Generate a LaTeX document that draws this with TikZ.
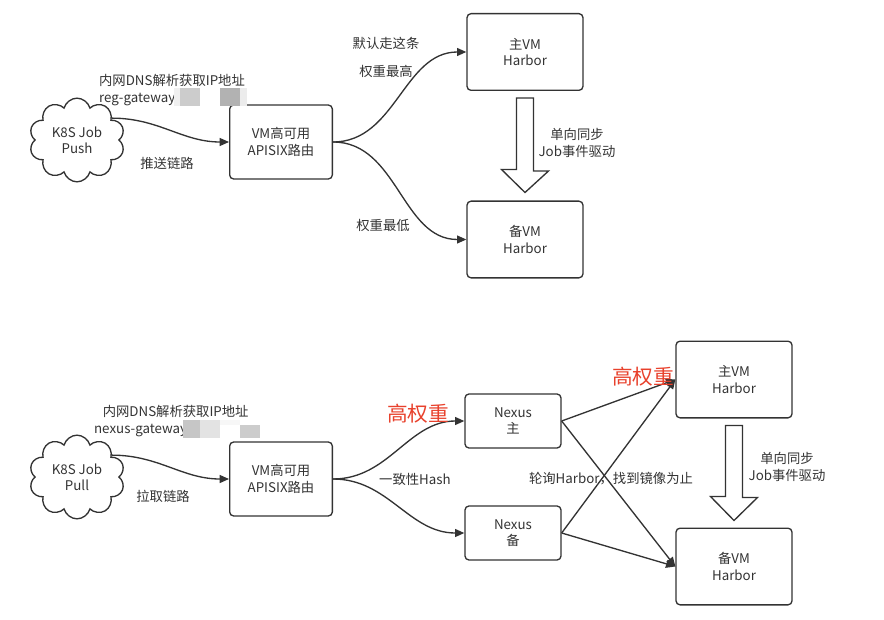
\documentclass[tikz,border=0pt]{standalone}
\usepackage{fontspec}
\setmainfont{Noto Sans CJK SC}
\usetikzlibrary{arrows.meta,shapes.symbols,calc}
\definecolor{ink}{HTML}{333333}
\definecolor{hot}{HTML}{E8412C}
\begin{document}
\begin{tikzpicture}[x=.75pt,y=-.75pt,line width=1pt,color=ink,
  every node/.style={font=\fontsize{10}{12.3}\selectfont},
  box/.style={draw,rounded corners=3pt,align=center,minimum width=77pt,minimum height=55.5pt},
  hbox/.style={box,minimum width=87pt,minimum height=57.5pt},
  nbox/.style={box,minimum width=72pt,minimum height=40.5pt},
  job/.style={draw,cloud,cloud puffs=10,aspect=1.25,minimum width=66pt,minimum height=52pt,align=center},
  link/.style={-{Triangle[length=7pt,width=6pt]}},
  hot note/.style={text=hot,font=\fontsize{15.5}{18}\selectfont},
  sync/.style={fill=white,line join=miter}]
  \useasboundingbox (0,0) rectangle (884,620);
  % push
  \node[job] (push) at (77,140) {K8S Job\\Push};
  \node[box] (gwA) at (281,142) {VM高可用\\APISIX路由};
  \node[hbox] (hmA) at (525,52) {主VM\\Harbor};
  \node[hbox] (hbA) at (525,239.5) {备VM\\Harbor};
  \draw[link] (push.32) to[out=0,in=180] (gwA.west);
  \draw[link] (gwA.east) to[out=0,in=180] (hmA.west);
  \draw[link] (gwA.east) to[out=0,in=180] (hbA.west);
  \draw[sync] ($(hmA.south)+(-8.5,7)$) -- ++(17,0) -- ++(0,73) -- ++(15,0)
    -- ($(hbA.north)+(0,-8)$) -- ++(-23.5,-23) -- ++(15,0) -- cycle;
  \node[align=left,anchor=west] at (94,90) {内网DNS解析获取IP地址\\reg-gateway};
  \fill[gray!12] (174,88) rectangle (180,106);
  \fill[gray!40] (180,88) rectangle (200,106);
  \fill[gray!60] (220,88) rectangle (240,106);
  \fill[gray!15] (240,88) rectangle (247,106);
  \node at (167,163) {推送链路};
  \node at (386,43) {默认走这条};
  \node at (386,71) {权重最高};
  \node at (383,225) {权重最低};
  \node[align=center] at (577,143) {单向同步\\Job事件驱动};
  % pull
  \node[job] (pull) at (77,477) {K8S Job\\Pull};
  \node[box] (gwB) at (281,479) {VM高可用\\APISIX路由};
  \node[nbox] (nxm) at (513,421) {Nexus\\主};
  \node[nbox] (nxb) at (513,533) {Nexus\\备};
  \node[hbox] (hmB) at (734,379.5) {主VM\\Harbor};
  \node[hbox] (hbB) at (734,566.5) {备VM\\Harbor};
  \draw[link] (pull.32) to[out=0,in=180] (gwB.west);
  \draw[link] (gwB.east) to[out=0,in=180] (nxm.west);
  \draw[link] (gwB.east) to[out=0,in=180] (nxb.west);
  \draw[link] (nxm.east) -- (hmB.west);
  \draw[link] (nxm.east) -- (hbB.west);
  \draw[link] (nxb.east) -- (hmB.west);
  \draw[link] (nxb.east) -- (hbB.west);
  \draw[sync] ($(hmB.south)+(-8.5,7)$) -- ++(17,0) -- ++(0,72) -- ++(15,0)
    -- ($(hbB.north)+(0,-7)$) -- ++(-23.5,-24) -- ++(15,0) -- cycle;
  \node[align=left,anchor=west] at (89,421) {\hspace*{6.5pt}内网DNS解析获取IP地址\\nexus-gateway};
  \fill[gray!45] (183,420) rectangle (200,438);
  \fill[gray!22] (200,420) rectangle (220,438);
  \fill[gray!6] (220,420) rectangle (240,425);
  \fill[gray!40] (240,425) rectangle (260,438);
  \node at (163,496) {拉取链路};
  \node at (415,479) {一致性Hash};
  \node at (611,479) {轮询Harbor，找到镜像为止};
  \node[hot note] at (418,414) {高权重};
  \node[hot note] at (643,377) {高权重};
  \node[align=center] at (787,467) {单向同步\\Job事件驱动};
\end{tikzpicture}
\end{document}
